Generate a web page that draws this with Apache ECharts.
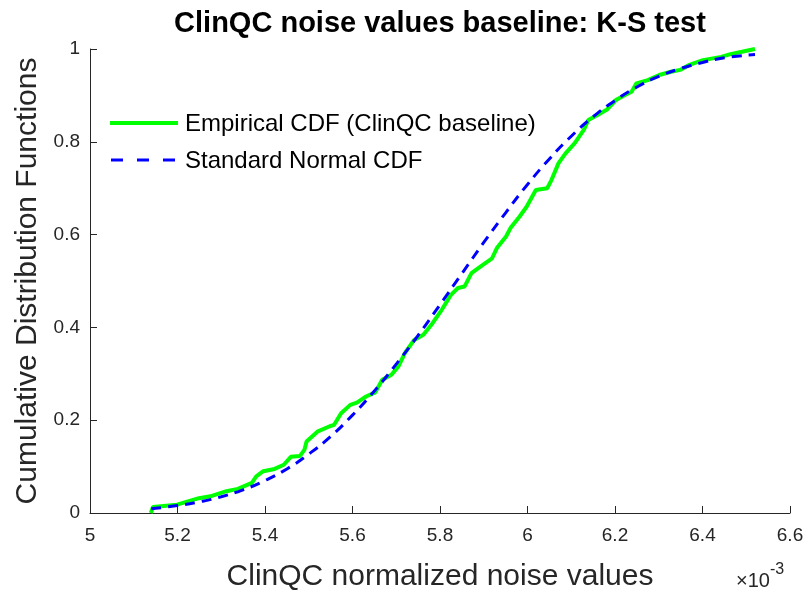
<!DOCTYPE html>
<html>
<head>
<meta charset="utf-8">
<script src="https://cdn.jsdelivr.net/npm/echarts@6/dist/echarts.min.js"></script>
<style>
html,body{margin:0;padding:0;background:#fff;}
#chart{width:808px;height:590px;}
</style>
</head>
<body>
<div id="chart"></div>
<script>
// x values are in units of 1e-3
var xTicks = [5, 5.2, 5.4, 5.6, 5.8, 6, 6.2, 6.4, 6.6];
var yTicks = [0, 0.2, 0.4, 0.6, 0.8, 1];

var empX = [5.139, 5.144, 5.199, 5.249, 5.275, 5.312, 5.338, 5.370, 5.380, 5.396, 5.422, 5.443, 5.459, 5.480, 5.490, 5.495, 5.521, 5.548, 5.558, 5.574, 5.595, 5.610, 5.631, 5.652, 5.668, 5.689, 5.705, 5.720, 5.741, 5.762, 5.783, 5.804, 5.825, 5.841, 5.856, 5.872, 5.882, 5.898, 5.919, 5.930, 5.951, 5.961, 5.982, 5.998, 6.019, 6.045, 6.055, 6.071, 6.087, 6.108, 6.129, 6.139, 6.160, 6.181, 6.202, 6.223, 6.238, 6.249, 6.275, 6.301, 6.328, 6.349, 6.370, 6.401, 6.443, 6.464, 6.490, 6.520];
var empY = [0, 0.013, 0.018, 0.032, 0.036, 0.047, 0.052, 0.065, 0.079, 0.090, 0.095, 0.104, 0.121, 0.123, 0.136, 0.154, 0.176, 0.187, 0.190, 0.215, 0.233, 0.238, 0.251, 0.260, 0.287, 0.298, 0.316, 0.345, 0.373, 0.384, 0.409, 0.438, 0.470, 0.485, 0.488, 0.517, 0.524, 0.535, 0.549, 0.571, 0.596, 0.614, 0.639, 0.660, 0.696, 0.700, 0.718, 0.754, 0.775, 0.797, 0.826, 0.847, 0.858, 0.869, 0.890, 0.901, 0.908, 0.926, 0.933, 0.944, 0.951, 0.955, 0.966, 0.976, 0.983, 0.989, 0.994, 1.0];

var normX = [5.14, 5.20, 5.25, 5.30, 5.35, 5.40, 5.45, 5.50, 5.55, 5.60, 5.65, 5.70, 5.75, 5.80, 5.85, 5.90, 5.95, 6.00, 6.05, 6.10, 6.15, 6.20, 6.25, 6.30, 6.35, 6.40, 6.45, 6.52];
var normY = [0.009, 0.016, 0.024, 0.035, 0.050, 0.070, 0.095, 0.127, 0.165, 0.211, 0.263, 0.321, 0.383, 0.449, 0.516, 0.583, 0.647, 0.708, 0.763, 0.812, 0.854, 0.889, 0.918, 0.941, 0.958, 0.971, 0.981, 0.988];

var seriesNames = ['Empirical CDF (ClinQC baseline)', 'Standard Normal CDF'];
var titleText = 'ClinQC noise values baseline: K-S test';
var xName = 'ClinQC normalized noise values';
var yName = 'Cumulative Distribution Functions';

function zip(a, b) { return a.map(function (v, i) { return [v, b[i]]; }); }

var FONT = 'Liberation Sans, Arial, Helvetica, sans-serif';
var GREEN = '#00ff00', BLUE = '#0000ff', AX = '#262626';
var chart = echarts.init(document.getElementById('chart'), null, {renderer: 'canvas'});
chart.setOption({
  animation: false,
  backgroundColor: '#fff',
  textStyle: {fontFamily: FONT},
  title: {
    text: titleText, left: 435, top: 4, textAlign: 'center',
    textStyle: {fontSize: 29, fontWeight: 'bold', color: '#000', fontFamily: FONT}
  },
  grid: {left: 90, right: 18, top: 49, bottom: 77, containLabel: false, outerBoundsMode: 'none'},
  xAxis: {
    type: 'value', min: xTicks[0], max: xTicks[xTicks.length - 1], interval: 0.2,
    name: xName, nameLocation: 'middle', nameGap: 49,
    nameTextStyle: {fontSize: 30, color: AX, fontFamily: FONT},
    axisLine: {lineStyle: {color: AX, width: 1}},
    axisTick: {inside: true, length: 7, lineStyle: {color: AX}},
    axisLabel: {fontSize: 19, color: AX, margin: 13, fontFamily: FONT,
      formatter: function (v) { return String(+v.toFixed(1)); }},
    splitLine: {show: false}
  },
  yAxis: {
    type: 'value', min: yTicks[0], max: yTicks[yTicks.length - 1], interval: 0.2,
    name: yName, nameLocation: 'middle', nameGap: 46,
    nameTextStyle: {fontSize: 30, color: AX, fontFamily: FONT},
    axisLine: {show: true, lineStyle: {color: AX, width: 1}},
    axisTick: {show: true, inside: true, length: 7, lineStyle: {color: AX}},
    axisLabel: {fontSize: 19, color: AX, margin: 10, fontFamily: FONT,
      formatter: function (v) { return String(+v.toFixed(1)); }},
    splitLine: {show: false}
  },
  graphic: [
    {type: 'line', shape: {x1: 110, y1: 123, x2: 178, y2: 123}, style: {stroke: GREEN, lineWidth: 4}},
    {type: 'text', left: 185, top: 112, style: {text: seriesNames[0], fontSize: 24, fill: '#000', fontFamily: FONT}},
    {type: 'line', shape: {x1: 111, y1: 160, x2: 178, y2: 160}, style: {stroke: BLUE, lineWidth: 3, lineDash: [12, 14]}},
    {type: 'text', left: 185, top: 149, style: {text: seriesNames[1], fontSize: 24, fill: '#000', fontFamily: FONT}},
    {
      type: 'text', left: 736, top: 562,
      style: {
        text: '{a|×10}{b|-3}',
        rich: {
          a: {fontSize: 20, fill: AX, fontFamily: FONT, verticalAlign: 'bottom', padding: [9, 0, 0, 0]},
          b: {fontSize: 16, fill: AX, fontFamily: FONT, verticalAlign: 'top'}
        }
      }
    }
  ],
  series: [{
    name: seriesNames[0], type: 'line', data: zip(empX, empY),
    showSymbol: false, symbol: 'none', smooth: false,
    lineStyle: {color: GREEN, width: 4},
    itemStyle: {color: GREEN}, z: 2
  }, {
    name: seriesNames[1], type: 'line', data: zip(normX, normY),
    showSymbol: false, symbol: 'none', smooth: true,
    lineStyle: {color: BLUE, width: 3, type: [10, 7]},
    itemStyle: {color: BLUE}, z: 3
  }]
});
</script>
</body>
</html>
